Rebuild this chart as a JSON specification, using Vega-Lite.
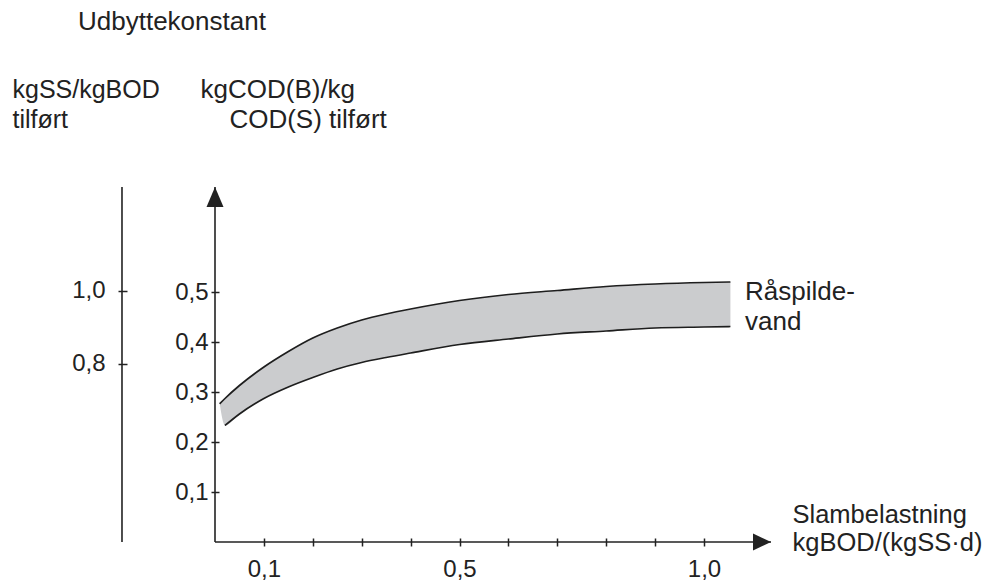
{
  "$schema": "https://vega.github.io/schema/vega-lite/v6.json",
  "width": 556,
  "height": 355,
  "autosize": {"type": "none"},
  "padding": {"left": 215, "top": 187, "right": 217, "bottom": 46},
  "background": "white",
  "config": {
    "view": {"stroke": null},
    "font": "Liberation Sans",
    "axis": {"grid": false, "labelFont": "Liberation Sans", "titleFont": "Liberation Sans", "labelColor": "#222", "titleColor": "#222", "tickColor": "#222", "domainColor": "#222", "labelOverlap": false, "labelFlush": false, "titleFontWeight": "normal"}
  },
  "title": {"text": "Udbyttekonstant", "anchor": "start", "frame": "group", "dx": -137, "offset": 41, "fontSize": 26, "fontWeight": "normal", "font": "Liberation Sans", "color": "#222"},
  "datasets": {
    "band": [
      {"x": 0.0096, "hi": 0.2764, "lo": 0.2764},
      {"x": 0.0204, "hi": 0.287, "lo": 0.233},
      {"x": 0.05, "hi": 0.313, "lo": 0.256},
      {"x": 0.1, "hi": 0.350, "lo": 0.287},
      {"x": 0.15, "hi": 0.381, "lo": 0.310},
      {"x": 0.2, "hi": 0.408, "lo": 0.329},
      {"x": 0.25, "hi": 0.428, "lo": 0.346},
      {"x": 0.3, "hi": 0.444, "lo": 0.359},
      {"x": 0.35, "hi": 0.456, "lo": 0.369},
      {"x": 0.4, "hi": 0.466, "lo": 0.378},
      {"x": 0.5, "hi": 0.483, "lo": 0.395},
      {"x": 0.6, "hi": 0.495, "lo": 0.406},
      {"x": 0.7, "hi": 0.503, "lo": 0.416},
      {"x": 0.8, "hi": 0.511, "lo": 0.422},
      {"x": 0.9, "hi": 0.516, "lo": 0.428},
      {"x": 1.0, "hi": 0.519, "lo": 0.430},
      {"x": 1.054, "hi": 0.520, "lo": 0.431}
    ],
    "label": [{"x": 1.084, "y": 0.485, "text": "Råspilde-\nvand"}],
    "left": [{"v": 0.8}, {"v": 1.0}]
  },
  "layer": [
    {
      "data": {"name": "band"},
      "mark": {"type": "area", "interpolate": "monotone", "color": "#cbccce", "opacity": 1},
      "encoding": {
        "x": {"field": "x", "type": "quantitative", "scale": {"domain": [0, 1.137], "nice": false, "zero": false},
          "axis": {"orient": "bottom", "values": [0.1, 0.2, 0.3, 0.4, 0.5, 0.6, 0.7, 0.8, 0.9, 1.0], "domain": false, "offset": -4, "tickSize": 8, "tickWidth": 1.5,
            "labelExpr": "(datum.value == 0.1 || datum.value == 0.5 || datum.value == 1) ? replace(format(datum.value, '.1f'), '.', ',') : ''",
            "labelFontSize": 24, "labelPadding": 11, "labelBound": false,
            "title": ["Slambelastning", "kgBOD/(kgSS·d)"], "titleFontSize": 25.5, "titleAngle": 0, "titleAlign": "left", "titleBaseline": "alphabetic", "titleX": 577, "titleY": -16, "titleLineHeight": 28}},
        "y": {"field": "hi", "type": "quantitative", "scale": {"domain": [0, 0.71], "nice": false, "zero": false},
          "axis": {"orient": "left", "values": [0.1, 0.2, 0.3, 0.4, 0.5], "domain": false, "offset": -4, "tickSize": 8, "tickWidth": 1.5,
            "labelExpr": "replace(format(datum.value, '.1f'), '.', ',')",
            "labelFontSize": 24, "labelPadding": 3,
            "title": ["kgCOD(B)/kg", "\u200b\u00a0\u00a0\u00a0\u00a0COD(S) tilført"], "titleFontSize": 26, "titleAngle": 0, "titleAlign": "left", "titleBaseline": "alphabetic", "titleX": -19, "titleY": -90, "titleLineHeight": 30}},
        "y2": {"field": "lo"}
      }
    },
    {
      "data": {"name": "band"},
      "mark": {"type": "line", "interpolate": "monotone", "color": "#1e1e1e", "strokeWidth": 1.7},
      "encoding": {
        "x": {"field": "x", "type": "quantitative", "scale": {"domain": [0, 1.137], "nice": false, "zero": false}, "axis": null},
        "y": {"field": "hi", "type": "quantitative", "scale": {"domain": [0, 0.71], "nice": false, "zero": false}, "axis": null}
      }
    },
    {
      "data": {"name": "band"},
      "transform": [{"filter": "datum.x > 0.015"}],
      "mark": {"type": "line", "interpolate": "monotone", "color": "#1e1e1e", "strokeWidth": 1.7},
      "encoding": {
        "x": {"field": "x", "type": "quantitative", "scale": {"domain": [0, 1.137], "nice": false, "zero": false}, "axis": null},
        "y": {"field": "lo", "type": "quantitative", "scale": {"domain": [0, 0.71], "nice": false, "zero": false}, "axis": null}
      }
    },
    {
      "data": {"name": "label"},
      "mark": {"type": "rule", "color": "#222", "strokeWidth": 1.6},
      "encoding": {
        "y": {"datum": 0, "type": "quantitative", "scale": {"domain": [0, 0.71], "nice": false, "zero": false}, "axis": null}
      }
    },
    {
      "data": {"name": "label"},
      "mark": {"type": "rule", "color": "#222", "strokeWidth": 1.6},
      "encoding": {
        "x": {"datum": 0, "type": "quantitative", "scale": {"domain": [0, 1.137], "nice": false, "zero": false}, "axis": null}
      }
    },
    {
      "data": {"name": "label"},
      "mark": {"type": "rule", "color": "#222", "strokeWidth": 1.6},
      "encoding": {
        "x": {"datum": -0.1902, "type": "quantitative", "scale": {"domain": [0, 1.137], "nice": false, "zero": false}, "axis": null}
      }
    },
    {
      "data": {"name": "label"},
      "mark": {"type": "point", "shape": "M0,-1L0.85,1L-0.85,1Z", "size": 400, "filled": true, "color": "#222", "opacity": 1},
      "encoding": {
        "x": {"datum": 0, "type": "quantitative", "scale": {"domain": [0, 1.137], "nice": false, "zero": false}, "axis": null},
        "y": {"datum": 0.69, "type": "quantitative", "scale": {"domain": [0, 0.71], "nice": false, "zero": false}, "axis": null}
      }
    },
    {
      "data": {"name": "label"},
      "mark": {"type": "point", "shape": "M1,0L-1,-0.95L-1,0.95Z", "size": 324, "filled": true, "color": "#222", "opacity": 1},
      "encoding": {
        "x": {"datum": 1.1186, "type": "quantitative", "scale": {"domain": [0, 1.137], "nice": false, "zero": false}, "axis": null},
        "y": {"datum": 0, "type": "quantitative", "scale": {"domain": [0, 0.71], "nice": false, "zero": false}, "axis": null}
      }
    },
    {
      "data": {"name": "label"},
      "mark": {"type": "text", "align": "left", "baseline": "alphabetic", "fontSize": 26, "font": "Liberation Sans", "color": "#222", "lineBreak": "\n", "lineHeight": 30},
      "encoding": {
        "x": {"field": "x", "type": "quantitative", "scale": {"domain": [0, 1.137], "nice": false, "zero": false}, "axis": null},
        "y": {"field": "y", "type": "quantitative", "scale": {"domain": [0, 0.71], "nice": false, "zero": false}, "axis": null},
        "text": {"field": "text"}
      }
    },
    {
      "data": {"name": "left"},
      "mark": {"type": "point", "opacity": 0},
      "encoding": {
        "y": {"field": "v", "type": "quantitative", "scale": {"domain": [0.3123, 1.2849], "nice": false, "zero": false},
          "axis": {"orient": "left", "offset": 88, "values": [0.8, 1.0], "domain": false, "tickSize": 9, "tickWidth": 1.5,
            "labelExpr": "replace(format(datum.value, '.1f'), '.', ',')",
            "labelFontSize": 24, "labelPadding": 13,
            "title": ["kgSS/kgBOD", "tilført"], "titleFontSize": 25, "titleAngle": 0, "titleAlign": "left", "titleBaseline": "alphabetic", "titleX": -115, "titleY": -90, "titleLineHeight": 30}}
      }
    }
  ],
  "resolve": {"scale": {"x": "independent", "y": "independent"}}
}
